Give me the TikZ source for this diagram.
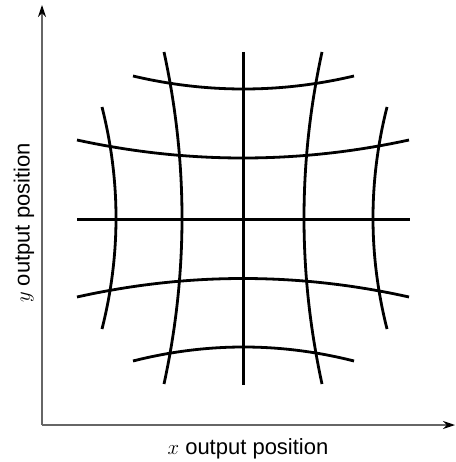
\documentclass[tikz,border=0pt]{standalone}
\usepackage{fontspec}
\setmainfont{Liberation Sans}
\usetikzlibrary{arrows.meta, calc}

\tikzset{
  gridline/.style={line width=2.8pt},
  axis/.style={line width=1.3pt, draw=black!60, -{Stealth[length=12pt,width=8pt,black]}},
  axislabel/.style={font=\fontsize{22}{26}\selectfont},
}

\begin{document}
\begin{tikzpicture}[x=1pt,y=-1pt]
  \useasboundingbox (0,0) rectangle (455,462);
  \coordinate (origin) at (42,425);
  \coordinate (xend) at (455,425);
  \coordinate (yend) at (42,5);
  \draw[axis] (origin) -- (xend);
  \draw[axis] (origin) -- (yend);
  \node[axislabel] (xlabel) at (248,449) {$x$ output position};
  \node[axislabel, rotate=90] (ylabel) at (24,223) {$y$ output position};

  % straight lines through the centre
  \draw[gridline] (77,219.5) -- (410,219.5);
  \draw[gridline] (243.5,52) -- (243.5,385);

  % bent lines: start / bend point / end
  \foreach \ax/\ay/\qx/\qy/\bx/\by in {
      133/76/243.5/102/354/76, 77/140/243/176/409/140,
      77/297/243/260/409/297, 133/361/243.5/333/354/361,
      164/52/200/218/164/384, 322/52/286/218/322/384,
      102/107/130/218/102/329, 387/107/359/218/387/329}
    \draw[gridline] (\ax,\ay) .. controls ($(\ax,\ay)!2/3!(\qx,\qy)$)
      and ($(\bx,\by)!2/3!(\qx,\qy)$) .. (\bx,\by);
\end{tikzpicture}
\end{document}
